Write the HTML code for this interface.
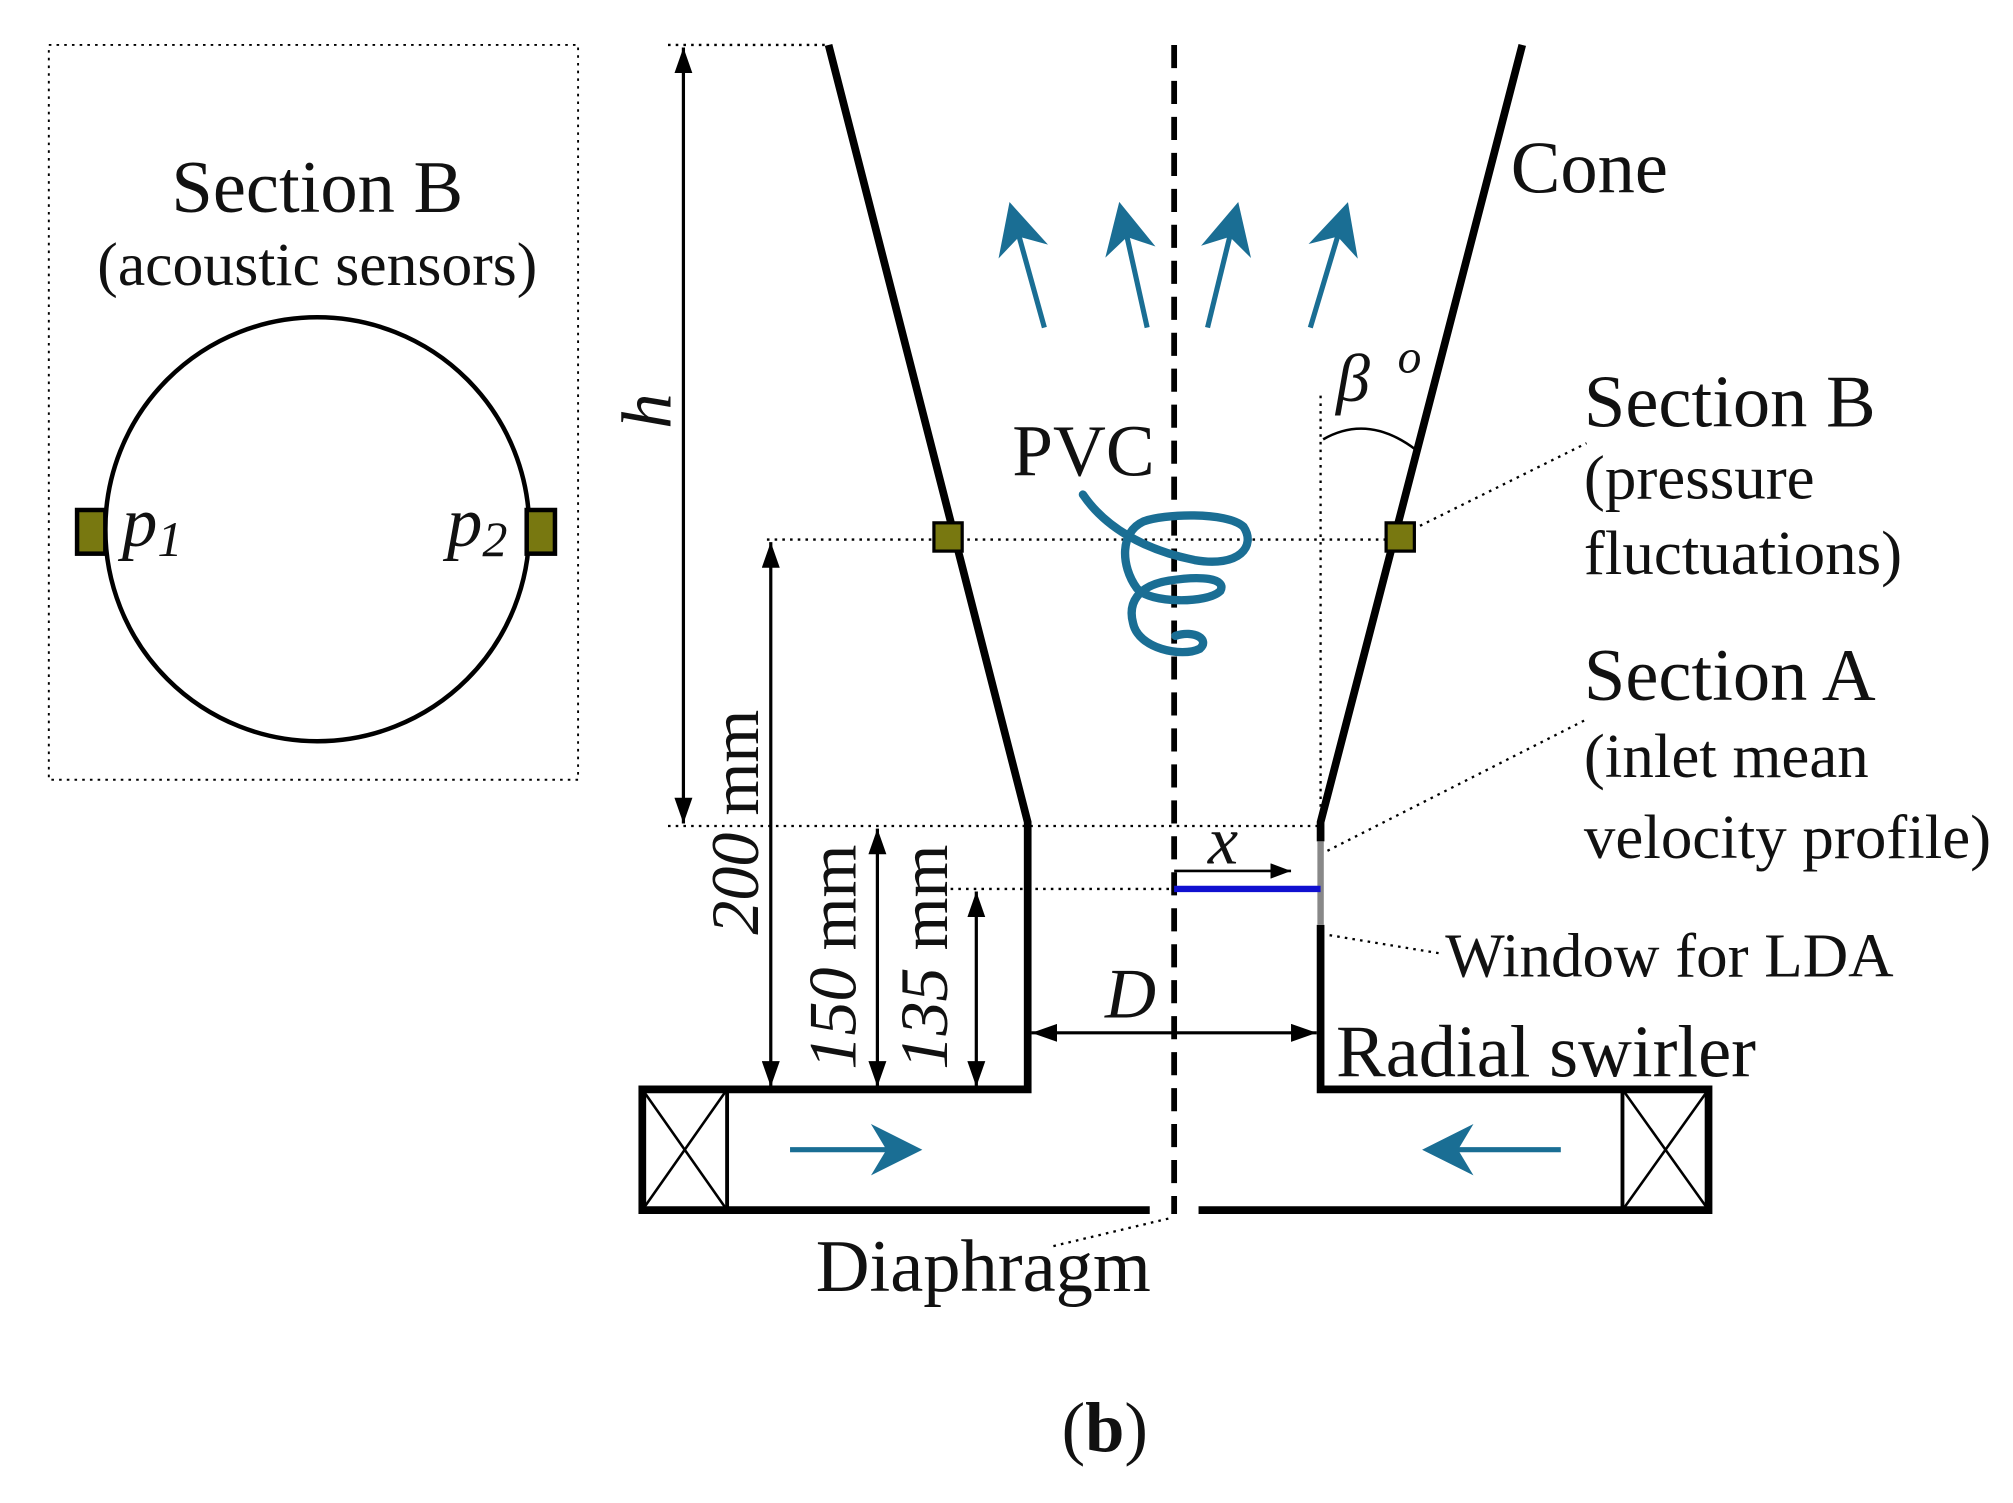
<!DOCTYPE html>
<html><head><meta charset="utf-8"><style>html,body{margin:0;padding:0;background:#fff}svg{display:block}text{font-family:"Liberation Serif",serif;fill:#111}</style></head>
<body>
<svg width="2013" height="1503" viewBox="0 0 1567 1170" xmlns="http://www.w3.org/2000/svg">
<defs>
<marker id="a" viewBox="0 0 20 14" refX="20" refY="7" markerWidth="20" markerHeight="14" orient="auto-start-reverse" markerUnits="userSpaceOnUse"><path d="M0,0 L20,7 L0,14 z" fill="#000"/></marker>
<marker id="s" viewBox="0 0 16 12" refX="16" refY="6" markerWidth="16" markerHeight="12" orient="auto-start-reverse" markerUnits="userSpaceOnUse"><path d="M0,0 L16,6 L0,12 z" fill="#000"/></marker>
<marker id="b" viewBox="0 0 10 10" refX="8" refY="5" markerWidth="10" markerHeight="10" orient="auto" markerUnits="strokeWidth"><path d="M0,0 L10,5 L0,10 L3,5z" fill="#1a6e94"/></marker>
</defs>
<rect x="38" y="35" width="412" height="572" fill="none" stroke="#000" stroke-width="1.5" stroke-dasharray="2,4"/>
<text x="247" y="165" font-size="58" text-anchor="middle">Section B</text>
<text x="247" y="222" font-size="48" text-anchor="middle">(acoustic sensors)</text>
<circle cx="247" cy="412" r="165" fill="none" stroke="#000" stroke-width="3.5"/>
<rect x="60" y="397" width="22" height="34" fill="#787810" stroke="#000" stroke-width="3.5"/>
<rect x="410" y="397" width="22" height="34" fill="#787810" stroke="#000" stroke-width="3.5"/>
<text x="95" y="425" font-size="55" font-style="italic">p<tspan font-size="39" dy="8">1</tspan></text>
<text x="348" y="425" font-size="55" font-style="italic">p<tspan font-size="39" dy="8">2</tspan></text>
<g stroke="#000" stroke-width="1.8" stroke-dasharray="2,4" fill="none">
<line x1="520" y1="35" x2="645" y2="35"/>
<line x1="597" y1="420" x2="1090" y2="420"/>
<line x1="520" y1="643" x2="1028" y2="643"/>
<line x1="740" y1="692" x2="914" y2="692"/>
<line x1="1028" y1="308" x2="1028" y2="640"/>
<line x1="1100" y1="412" x2="1235" y2="345"/>
<line x1="1028" y1="665" x2="1235" y2="560"/>
<line x1="1035" y1="728" x2="1120" y2="742"/>
<line x1="820" y1="970" x2="912" y2="948"/>
</g>
<line x1="914" y1="35" x2="914" y2="945" stroke="#000" stroke-width="4.5" stroke-dasharray="18,10"/>
<g stroke="#000" stroke-width="6" fill="none">
<polyline points="645,35 800,640 800,848 500,848 500,942 895,942"/>
<polyline points="1185,35 1028,640 1028,655"/>
<polyline points="1028,720 1028,848 1330,848 1330,942 933,942"/>
<line x1="566" y1="848" x2="566" y2="942" stroke-width="3"/>
<line x1="1263" y1="848" x2="1263" y2="942" stroke-width="3"/>
</g>
<g stroke="#000" stroke-width="2"><line x1="500" y1="848" x2="566" y2="942"/><line x1="566" y1="848" x2="500" y2="942"/><line x1="1263" y1="848" x2="1330" y2="942"/><line x1="1330" y1="848" x2="1263" y2="942"/></g>
<line x1="1028" y1="655" x2="1028" y2="720" stroke="#888" stroke-width="5"/>
<line x1="914" y1="692" x2="1028" y2="692" stroke="#1010d0" stroke-width="5"/>
<rect x="727" y="407" width="22" height="22" fill="#787810" stroke="#000" stroke-width="2.5"/>
<rect x="1079" y="407" width="22" height="22" fill="#787810" stroke="#000" stroke-width="2.5"/>
<g stroke="#000" stroke-width="2.5" marker-start="url(#a)" marker-end="url(#a)">
<line x1="532" y1="37" x2="532" y2="641"/>
<line x1="600" y1="422" x2="600" y2="846"/>
<line x1="683" y1="645" x2="683" y2="846"/>
<line x1="760" y1="694" x2="760" y2="846"/>
<line x1="803" y1="804" x2="1025" y2="804"/>
</g>
<line x1="914" y1="678" x2="1005" y2="678" stroke="#000" stroke-width="2" marker-end="url(#s)"/>
<text transform="translate(522,320) rotate(-90)" font-size="55" font-style="italic" text-anchor="middle">h</text>
<text transform="translate(590,640) rotate(-90)" font-size="53" text-anchor="middle"><tspan font-style="italic">200</tspan> mm</text>
<text transform="translate(666,745) rotate(-90)" font-size="53" text-anchor="middle"><tspan font-style="italic">150</tspan> mm</text>
<text transform="translate(737,745) rotate(-90)" font-size="53" text-anchor="middle"><tspan font-style="italic">135</tspan> mm</text>
<text x="880" y="792" font-size="55" font-style="italic" text-anchor="middle">D</text>
<text x="952" y="672" font-size="53" font-style="italic" text-anchor="middle">x</text>
<g stroke="#1a6e94" stroke-width="4" marker-end="url(#b)">
<line x1="813" y1="255" x2="788" y2="165"/>
<line x1="893" y1="255" x2="873" y2="165"/>
<line x1="940" y1="255" x2="962" y2="165"/>
<line x1="1020" y1="255" x2="1047" y2="165"/>
<line x1="615" y1="895" x2="710" y2="895"/>
<line x1="1215" y1="895" x2="1115" y2="895"/>
</g>
<path d="M843,385 C860,410 890,428 930,436 C965,442 978,425 968,410 C955,398 905,400 890,406 C872,414 872,440 885,458 C895,470 940,470 950,460 C955,450 935,448 910,452 C885,456 878,470 882,485 C886,505 920,512 934,505 C942,498 930,490 915,495" fill="none" stroke="#1a6e94" stroke-width="6.5" stroke-linecap="round"/>
<text x="788" y="370" font-size="57">PVC</text>
<path d="M1030,342 Q1065,322 1102,350" fill="none" stroke="#000" stroke-width="2"/>
<text x="1040" y="312" font-size="53" font-style="italic">β</text>
<text x="1088" y="290" font-size="37" font-style="italic">o</text>
<text x="1176" y="150" font-size="58">Cone</text>
<text x="1233" y="332" font-size="58">Section B</text>
<text x="1233" y="388" font-size="49">(pressure</text>
<text x="1233" y="447" font-size="49">fluctuations)</text>
<text x="1233" y="545" font-size="58">Section A</text>
<text x="1233" y="605" font-size="49">(inlet mean</text>
<text x="1233" y="668" font-size="49">velocity profile)</text>
<text x="1125" y="760" font-size="49">Window for LDA</text>
<text x="1040" y="838" font-size="58">Radial swirler</text>
<text x="635" y="1005" font-size="58">Diaphragm</text>
<text x="860" y="1130" font-size="55" text-anchor="middle">(<tspan font-weight="bold">b</tspan>)</text>
</svg>
</body></html>
